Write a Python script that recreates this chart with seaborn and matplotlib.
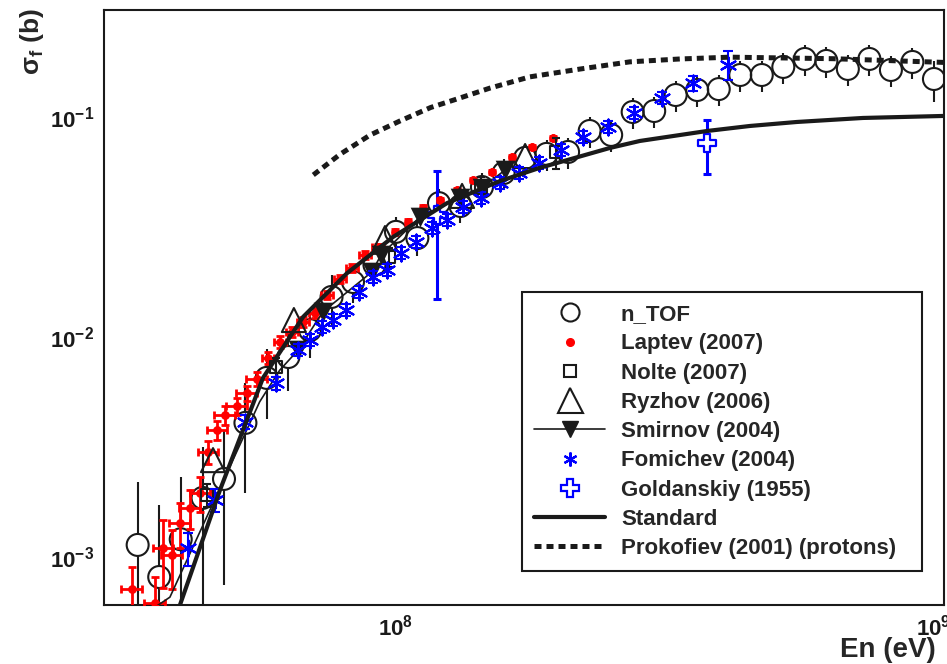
import numpy as np
import matplotlib
matplotlib.use('Agg')
import matplotlib.pyplot as plt
from matplotlib.lines import Line2D
from matplotlib.ticker import LogLocator, NullFormatter
import seaborn as sns

# ---- data ----
ntof_E = np.array([3.31e7, 3.63e7, 3.98e7, 4.37e7, 4.79e7, 5.25e7, 5.75e7, 6.31e7, 6.92e7, 7.59e7,
                   8.32e7, 9.12e7, 1.0e8, 1.096e8, 1.202e8, 1.318e8, 1.445e8, 1.585e8, 1.738e8, 1.905e8,
                   2.089e8, 2.291e8, 2.512e8, 2.754e8, 3.02e8, 3.311e8, 3.631e8, 3.981e8, 4.365e8, 4.786e8,
                   5.248e8, 5.754e8, 6.31e8, 6.918e8, 7.586e8, 8.318e8, 9.12e8, 1.0e9])
ntof_sig = np.array([1.14e-3, 8.15e-4, 1.21e-3, 1.865e-3, 2.275e-3, 4.09e-3, 6.55e-3, 8.15e-3, 0.0108, 0.01528,
                     0.01787, 0.0214, 0.0302, 0.0283, 0.0408, 0.0396, 0.0483, 0.0559, 0.0655, 0.0683,
                     0.0697, 0.0868, 0.0833, 0.1059, 0.107, 0.1265, 0.1333, 0.1346, 0.156, 0.156,
                     0.1697, 0.1845, 0.1807, 0.1662, 0.1845, 0.1644, 0.1788, 0.1496])
ntof_rel_err = np.array([0.93, 1.13, 0.92, 0.71, 0.67, 0.52, 0.35, 0.3, 0.25, 0.26,
                         0.2, 0.2, 0.17, 0.17, 0.16, 0.16, 0.16, 0.16, 0.16, 0.16,
                         0.16, 0.16, 0.16, 0.16, 0.16, 0.16, 0.16, 0.16, 0.16, 0.16,
                         0.16, 0.16, 0.16, 0.16, 0.16, 0.16, 0.16, 0.21])

laptev_E = np.array([3.23e7, 3.565e7, 3.69e7, 3.834e7, 3.967e7, 4.14e7, 4.323e7, 4.474e7, 4.649e7, 4.81e7,
                     5.063e7, 5.285e7, 5.516e7, 5.783e7, 6.087e7, 6.408e7, 6.716e7, 7.07e7, 7.443e7, 7.869e7,
                     8.284e7, 8.759e7, 9.26e7, 9.96e7, 1.053e8, 1.122e8, 1.207e8, 1.298e8, 1.39e8, 1.508e8,
                     1.643e8, 1.789e8, 1.958e8])
laptev_sig = np.array([7.19e-4, 6.21e-4, 1.10e-3, 1.03e-3, 1.44e-3, 1.68e-3, 1.96e-3, 3.02e-3, 3.80e-3, 4.45e-3,
                       4.89e-3, 5.60e-3, 6.48e-3, 8.07e-3, 9.54e-3, 0.0106, 0.01175, 0.0129, 0.0156, 0.0184,
                       0.0207, 0.0237, 0.0258, 0.0302, 0.0335, 0.0388, 0.0422, 0.0468, 0.0519, 0.0565,
                       0.0661, 0.0734, 0.0807])
laptev_rel_err = np.array([0.26, 0.31, 0.34, 0.3, 0.23, 0.2, 0.18, 0.12, 0.1, 0.1,
                           0.09, 0.08, 0.07, 0.06, 0.06, 0.05, 0.05, 0.05, 0.04, 0.04,
                           0.04, 0.04, 0.03, 0.03, 0.03, 0.03, 0.02, 0.02, 0.02, 0.02,
                           0.02, 0.02, 0.02])
laptev_rel_dE = np.array([0.044] * 13 + [0.025] * 10 + [0.0] * 10)

nolte_E = np.array([4.454e7, 5.984e7, 9.705e7, 1.439e8, 1.983e8])
nolte_sig = np.array([1.92e-3, 7.34e-3, 0.0232, 0.0479, 0.0697])
nolte_rel_err = np.array([0.12, 0.1, 0.1, 0.12, 0.16])

ryzhov_E = np.array([4.57e7, 6.46e7, 9.54e7, 1.327e8, 1.738e8])
ryzhov_sig = np.array([2.77e-3, 0.0120, 0.0283, 0.0440, 0.0668])

smirnov_E = np.array([6.58e7, 7.31e7, 9.02e7, 9.38e7, 1.108e8, 1.315e8, 1.445e8, 1.595e8])
smirnov_sig = np.array([8.77e-3, 0.01306, 0.01986, 0.0237, 0.0353, 0.0431, 0.0479, 0.0577])
smirnov_curve_E = np.array([3.55e7, 3.80e7, 5.58e7, 6.08e7, 6.58e7, 7.31e7, 9.02e7, 9.38e7,
                            1.108e8, 1.315e8, 1.445e8, 1.595e8])
smirnov_curve_sig = np.array([5.9e-4, 6.6e-4, 5.1e-3, 7.1e-3, 8.77e-3, 0.01306, 0.01986, 0.0237,
                              0.0353, 0.0431, 0.0479, 0.0577])

fomichev_E = np.array([4.106e7, 4.61e7, 5.24e7, 5.984e7, 6.574e7, 6.92e7, 7.286e7, 7.636e7, 8.074e7, 8.535e7,
                       9.063e7, 9.622e7, 1.022e8, 1.089e8, 1.167e8, 1.244e8, 1.332e8, 1.439e8, 1.561e8, 1.693e8,
                       1.845e8, 2.027e8, 2.227e8, 2.477e8, 2.769e8, 3.122e8, 3.565e8, 4.141e8])
fomichev_sig = np.array([1.104e-3, 1.826e-3, 4.13e-3, 6.21e-3, 8.77e-3, 9.74e-3, 0.01116, 0.0120, 0.01334, 0.0161,
                         0.01884, 0.0203, 0.0242, 0.0272, 0.03146, 0.0342, 0.0392, 0.0431, 0.0504, 0.056,
                         0.0621, 0.0712, 0.0815, 0.0906, 0.1048, 0.1227, 0.1435, 0.1735])
fomichev_rel_err = np.array([0.17, 0.12, 0.07, 0.07] + [0.06] * 22 + [0.08, 0.15])

goldanskiy_E = np.array([1.19e8, 3.78e8])
goldanskiy_sig = np.array([0.036, 0.0766])
goldanskiy_err = np.array([0.021, 0.021])

standard_E = np.array([3.967e7, 4.71e7, 5.66e7, 6.72e7, 8.11e7, 9.87e7, 1.244e8, 1.56e8, 1.85e8,
                       2.499e8, 2.84e8, 3.785e8, 4.55e8, 5.56e8, 7.38e8, 1.04e9])
standard_sig = np.array([6.08e-4, 2.03e-3, 6.55e-3, 0.0124, 0.0196, 0.0286, 0.0408, 0.0514, 0.059,
                         0.0727, 0.0782, 0.0868, 0.0915, 0.0954, 0.0995, 0.1016])

prokofiev_E = np.array([7.02e7, 7.87e7, 8.95e7, 1.017e8, 1.16e8, 1.28e8, 1.495e8, 1.774e8, 2.198e8,
                        2.72e8, 3.373e8, 4.18e8, 6.5e8, 1.04e9])
prokofiev_sig = np.array([0.0548, 0.068, 0.0832, 0.0964, 0.111, 0.120, 0.136, 0.153, 0.166,
                          0.179, 0.1845, 0.188, 0.185, 0.178])

labels = ['n_TOF', 'Laptev (2007)', 'Nolte (2007)', 'Ryzhov (2006)', 'Smirnov (2004)',
          'Fomichev (2004)', 'Goldanskiy (1955)', 'Standard', 'Prokofiev (2001) (protons)']

# ---- style ----
sns.set_theme(style='white')
plt.rcParams['font.family'] = ['Liberation Sans', 'DejaVu Sans']
plt.rcParams['font.weight'] = 'bold'
plt.rcParams['mathtext.fontset'] = 'custom'
plt.rcParams['mathtext.rm'] = 'Liberation Sans:bold'
plt.rcParams['mathtext.bf'] = 'Liberation Sans:bold'
plt.rcParams['mathtext.it'] = 'Liberation Sans:italic:bold'

asterisk = (6, 2, 0)
blue = '#0000ff'
red = '#ff0000'

fig = plt.figure(figsize=(9.47, 6.64), dpi=100)
ax = fig.add_axes([104 / 947, 59 / 664, 840 / 947, 595 / 664])
ax.set_xscale('log')
ax.set_yscale('log')

# n_TOF error bars drawn outside the open circle, like ROOT does
gap = 10 ** (11 / 220)
hi = ntof_sig * (1 + ntof_rel_err)
lo = np.clip(ntof_sig * (1 - ntof_rel_err), 1e-5, None)
m = hi > ntof_sig * gap
ax.vlines(ntof_E[m], ntof_sig[m] * gap, hi[m], color='k', lw=1.5, zorder=2)
m = lo < ntof_sig / gap
ax.vlines(ntof_E[m], lo[m], ntof_sig[m] / gap, color='k', lw=1.5, zorder=2)
sns.scatterplot(x=ntof_E, y=ntof_sig, marker='o', s=250, facecolor='none',
                edgecolor='k', linewidth=1.5, ax=ax, zorder=3)

# Goldanskiy (drawn early so the crowded point sits behind the others)
ax.errorbar(goldanskiy_E, goldanskiy_sig, yerr=goldanskiy_err, fmt='none', ecolor=blue,
            elinewidth=2.2, capsize=3, capthick=2.2, zorder=3)
sns.scatterplot(x=goldanskiy_E, y=goldanskiy_sig, marker='P', s=170, facecolor='white',
                edgecolor=blue, linewidth=1.6, ax=ax, zorder=3.5)

# Laptev
ax.errorbar(laptev_E, laptev_sig, yerr=laptev_sig * laptev_rel_err, xerr=laptev_E * laptev_rel_dE,
            fmt='none', ecolor=red, elinewidth=2, capsize=3, capthick=2, zorder=4)
sns.scatterplot(x=laptev_E, y=laptev_sig, marker='o', s=40, color=red, edgecolor=red,
                linewidth=0, ax=ax, zorder=4)

# Nolte
ax.errorbar(nolte_E, nolte_sig, yerr=nolte_sig * nolte_rel_err, fmt='none', ecolor='k',
            elinewidth=1.5, capsize=3, capthick=1.5, zorder=4)
sns.scatterplot(x=nolte_E, y=nolte_sig, marker='s', s=80, facecolor='none', edgecolor='k',
                linewidth=1.5, ax=ax, zorder=4)

# Ryzhov
sns.scatterplot(x=ryzhov_E, y=ryzhov_sig, marker='^', s=300, facecolor='none', edgecolor='k',
                linewidth=1.5, ax=ax, zorder=4)

# Smirnov
sns.lineplot(x=smirnov_curve_E, y=smirnov_curve_sig, color='k', lw=1.2, sort=False,
             estimator=None, ax=ax, zorder=4)
sns.scatterplot(x=smirnov_E, y=smirnov_sig, marker='v', s=200, color='k', edgecolor='k',
                linewidth=0, ax=ax, zorder=4)

# Fomichev
ax.errorbar(fomichev_E, fomichev_sig, yerr=fomichev_sig * fomichev_rel_err, fmt='none', ecolor=blue,
            elinewidth=1.5, capsize=3.5, capthick=1.5, zorder=5)
sns.scatterplot(x=fomichev_E, y=fomichev_sig, marker=asterisk, s=130, color=blue,
                linewidth=1.6, ax=ax, zorder=5)

# curves
sns.lineplot(x=standard_E, y=standard_sig, color='k', lw=3, sort=False, estimator=None, ax=ax, zorder=6)
sns.lineplot(x=prokofiev_E, y=prokofiev_sig, color='k', lw=3.6, sort=False, estimator=None,
             linestyle=(0, (1.4, 1.0)), ax=ax, zorder=6)

# axes
ax.set_xlim(2.866e7, 1.044e9)
ax.set_ylim(6.08e-4, 0.308)
ax.set_xticks([1e8, 1e9])
ax.set_xticklabels([r'$\mathbf{10^{8}}$', r'$\mathbf{10^{9}}$'])
ax.set_yticks([1e-3, 1e-2, 1e-1])
ax.set_yticklabels([r'$\mathbf{10^{-3}}$', r'$\mathbf{10^{-2}}$', r'$\mathbf{10^{-1}}$'])
ax.xaxis.set_minor_locator(LogLocator(base=10, subs=np.arange(2, 10), numticks=20))
ax.yaxis.set_minor_locator(LogLocator(base=10, subs=np.arange(2, 10), numticks=20))
ax.xaxis.set_minor_formatter(NullFormatter())
ax.yaxis.set_minor_formatter(NullFormatter())
ax.tick_params(which='both', direction='in', top=False, right=False, width=1.5, colors='k',
               labelsize=16)
ax.tick_params(axis='x', which='major', length=12, pad=7)
ax.tick_params(axis='x', which='minor', length=6.5)
ax.tick_params(axis='y', which='major', length=21, pad=7)
ax.tick_params(axis='y', which='minor', length=11)
for sp in ax.spines.values():
    sp.set_visible(True)
    sp.set_color('k')
    sp.set_linewidth(1.5)
ax.set_xlabel('')
ax.set_ylabel('')

fig.text(32 / 947, 1 - 8 / 664, r'σ$_{\mathbf{f}}$ (b)', rotation=90, ha='center', va='top',
         fontsize=19, fontweight='bold')
fig.text(840 / 947, 7 / 664, 'En (eV)', ha='left', va='baseline', fontsize=20, fontweight='bold')

handles = [
    Line2D([], [], ls='none', marker='o', ms=13, mfc='none', mec='k', mew=1.5),
    Line2D([], [], ls='none', marker='o', ms=5.5, mfc=red, mec=red),
    Line2D([], [], ls='none', marker='s', ms=9, mfc='none', mec='k', mew=1.5),
    Line2D([], [], ls='none', marker='^', ms=18, mfc='none', mec='k', mew=1.5),
    Line2D([], [], color='k', lw=1.2, marker='v', ms=12, mfc='k', mec='k'),
    Line2D([], [], ls='none', marker=asterisk, ms=10, color=blue, mew=1.6),
    Line2D([], [], ls='none', marker='P', ms=13, mfc='none', mec=blue, mew=1.6),
    Line2D([], [], color='k', lw=3),
    Line2D([], [], color='k', lw=3.6, ls=(0, (1.4, 1.0))),
]
leg = ax.legend(handles, labels, loc='upper left', bbox_to_anchor=(0.4976, 0.0571, 0.4762, 0.469),
                mode='expand', borderaxespad=0,
                frameon=True, fancybox=False, framealpha=1, edgecolor='k',
                handlelength=3.2, handletextpad=0.7, borderpad=0.55, labelspacing=0.37,
                prop={'family': 'Liberation Sans', 'weight': 'bold', 'size': 16})
leg.get_frame().set_linewidth(1.5)
leg.set_zorder(10)

fig.savefig('out.png', dpi=100, facecolor='white')
